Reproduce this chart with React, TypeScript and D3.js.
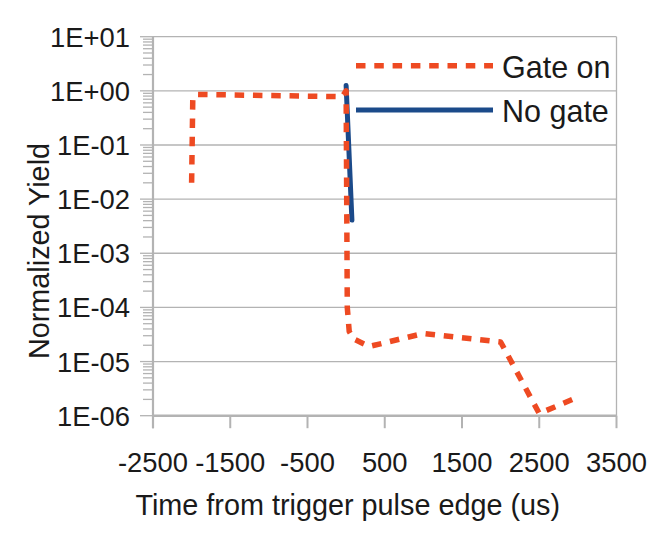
import React, { useEffect, useRef } from 'react';
import * as d3 from 'd3';

// Gate on series (orange, dashed)
const gateOnTime = [-2000, -1985, -1940, -1000, -50, 0, 15, 40, 100, 300, 1000, 2000, 2500, 3000];
const gateOnYield = [0.02, 0.72, 0.86, 0.82, 0.78, 1.0, 1.0e-4, 3.6e-5, 2.6e-5, 1.9e-5, 3.3e-5, 2.3e-5, 1.1e-6, 2.2e-6];

// No gate series (blue, solid)
const noGateTime = [0, 75];
const noGateYield = [1.25, 0.0041];

const xTicks = [-2500, -1500, -500, 500, 1500, 2500, 3500];
const yTicks = [1e1, 1e0, 1e-1, 1e-2, 1e-3, 1e-4, 1e-5, 1e-6];

const seriesNames = ['Gate on', 'No gate'];

const W = 671;
const H = 540;
const FONT = '"Liberation Sans", Arial, sans-serif';
const GRID = '#b3b3b3';
const ORANGE = '#ee4a22';
const BLUE = '#1b4a8a';

function fmtExp(v: number) {
  const e = Math.round(Math.log10(v));
  const s = e < 0 ? '-' : '+';
  const a = Math.abs(e);
  return '1E' + s + (a < 10 ? '0' + a : '' + a);
}

export default function App() {
  const ref = useRef<SVGSVGElement>(null);

  useEffect(() => {
    const svg = d3.select(ref.current);
    svg.selectAll('*').remove();

    const left = 153, right = 616.5, top = 36.7, bottom = 415.7;

    const x = d3.scaleLinear().domain([-2500, 3500]).range([left, right]);
    const y = d3.scaleLog().domain([1e-6, 10]).range([bottom, top]);

    // horizontal gridlines
    svg.append('g')
      .selectAll('line')
      .data(yTicks)
      .join('line')
      .attr('x1', left).attr('x2', right)
      .attr('y1', d => y(d)).attr('y2', d => y(d))
      .attr('stroke', GRID).attr('stroke-width', 1.3);

    // right frame
    svg.append('line')
      .attr('x1', right).attr('x2', right).attr('y1', top).attr('y2', bottom)
      .attr('stroke', GRID).attr('stroke-width', 1.3);

    // minor ticks on y
    const minors: number[] = [];
    for (let e = -6; e < 1; e++) {
      for (let m = 2; m <= 9; m++) minors.push(m * Math.pow(10, e));
    }
    svg.append('g')
      .selectAll('line')
      .data(minors)
      .join('line')
      .attr('x1', left - 10).attr('x2', left)
      .attr('y1', d => y(d)).attr('y2', d => y(d))
      .attr('stroke', GRID).attr('stroke-width', 1.3);

    // major ticks on y
    svg.append('g')
      .selectAll('line')
      .data(yTicks)
      .join('line')
      .attr('x1', left - 13).attr('x2', left)
      .attr('y1', d => y(d)).attr('y2', d => y(d))
      .attr('stroke', GRID).attr('stroke-width', 1.3);

    // x ticks
    svg.append('g')
      .selectAll('line')
      .data(xTicks)
      .join('line')
      .attr('x1', d => x(d)).attr('x2', d => x(d))
      .attr('y1', bottom).attr('y2', bottom + 12.5)
      .attr('stroke', GRID).attr('stroke-width', 2);

    // axes lines
    svg.append('line')
      .attr('x1', left).attr('x2', left).attr('y1', top).attr('y2', bottom + 12.5)
      .attr('stroke', GRID).attr('stroke-width', 2.2);
    svg.append('line')
      .attr('x1', left).attr('x2', right).attr('y1', bottom).attr('y2', bottom)
      .attr('stroke', GRID).attr('stroke-width', 2.4);

    // y tick labels
    svg.append('g')
      .selectAll('text')
      .data(yTicks)
      .join('text')
      .attr('x', 130)
      .attr('y', d => y(d) + 10)
      .attr('text-anchor', 'end')
      .style('font-family', FONT)
      .style('font-size', '27.4px')
      .attr('fill', '#1a1a1a')
      .text(d => fmtExp(d));

    // x tick labels
    svg.append('g')
      .selectAll('text')
      .data(xTicks)
      .join('text')
      .attr('x', d => x(d))
      .attr('y', 471.5)
      .attr('text-anchor', 'middle')
      .style('font-family', FONT)
      .style('font-size', '27.4px')
      .attr('fill', '#1a1a1a')
      .text(d => '' + d);

    // axis titles
    svg.append('text')
      .attr('x', (left + right) / 2 - 37)
      .attr('y', 515)
      .attr('text-anchor', 'middle')
      .style('font-family', FONT)
      .style('font-size', '28.8px')
      .attr('fill', '#1a1a1a')
      .text('Time from trigger pulse edge (us)');

    svg.append('text')
      .attr('transform', 'translate(49,251) rotate(-90)')
      .attr('text-anchor', 'middle')
      .style('font-family', FONT)
      .style('font-size', '28.8px')
      .attr('fill', '#1a1a1a')
      .text('Normalized Yield');

    const gatePts: [number, number][] = gateOnTime.map((t, i) => [x(t), y(gateOnYield[i])]);
    const noPts: [number, number][] = noGateTime.map((t, i) => [x(t), y(noGateYield[i])]);
    const path = d3.line();

    svg.append('path')
      .attr('d', path(noPts))
      .attr('fill', 'none')
      .attr('stroke', BLUE)
      .attr('stroke-width', 5)
      .attr('stroke-linecap', 'round');

    svg.append('path')
      .attr('d', path(gatePts))
      .attr('fill', 'none')
      .attr('stroke', ORANGE)
      .attr('stroke-width', 5.5)
      .attr('stroke-linejoin', 'round')
      .attr('stroke-dasharray', '9.5 8.8');

    // legend
    const lg = svg.append('g');
    const rows = [
      { name: seriesNames[0], color: ORANGE, dash: '9.5 8.8', w: 5.5, ly: 65.7, ty: 78.3 },
      { name: seriesNames[1], color: BLUE, dash: null, w: 5, ly: 110, ty: 121.7 },
    ];
    rows.forEach(r => {
      lg.append('line')
        .attr('x1', 356).attr('x2', 493)
        .attr('y1', r.ly).attr('y2', r.ly)
        .attr('stroke', r.color)
        .attr('stroke-width', r.w)
        .attr('stroke-dasharray', r.dash);
      lg.append('text')
        .attr('x', 502)
        .attr('y', r.ty)
        .style('font-family', FONT)
        .style('font-size', '30.5px')
        .attr('fill', '#1a1a1a')
        .text(r.name);
    });
  }, []);

  return (
    <svg ref={ref} width={W} height={H}
      style={{ position: 'absolute', left: 0, top: 0, background: '#fff' }} />
  );
}
